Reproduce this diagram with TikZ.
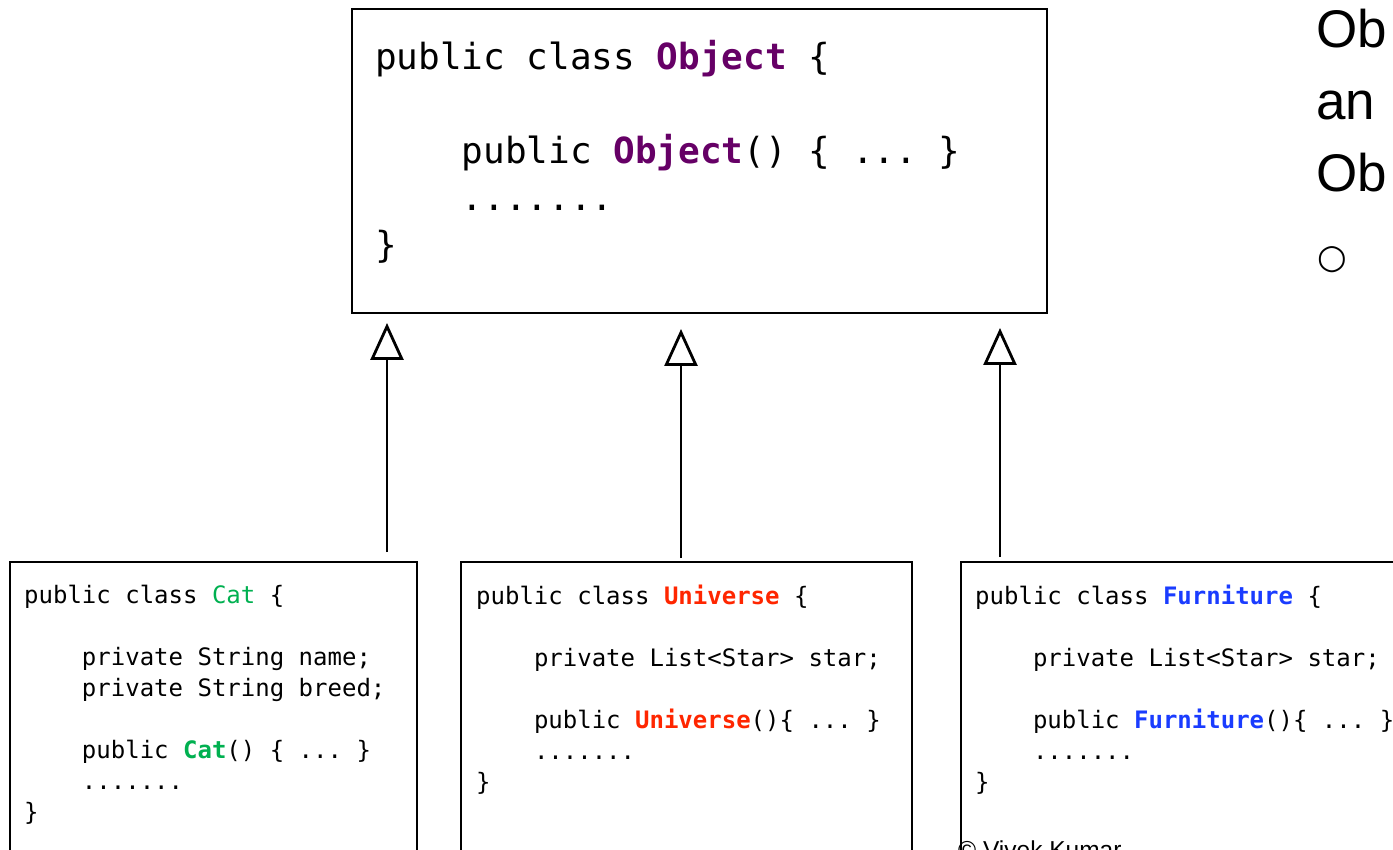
\documentclass[tikz,border=0pt]{standalone}
\usepackage{fontspec}
\setmonofont{DejaVu Sans Mono}
\newfontfamily\slidefont{Liberation Sans}
\newfontfamily\symbolfont{DejaVu Sans}
\usetikzlibrary{arrows.meta,positioning}

\definecolor{objpurple}{RGB}{102,0,102}
\definecolor{catgreen}{RGB}{0,176,80}
\definecolor{unired}{RGB}{255,38,0}
\definecolor{furnblue}{RGB}{26,60,255}

% four spaces of indentation in the code
\newcommand{\ind}{\hphantom{0000}}

\tikzset{
  classbox/.style={draw, line width=1.3pt, minimum width=#1,
    minimum height=340pt, inner sep=0pt},
  bigcode/.style={anchor=north west, inner sep=0pt, align=left,
    font=\ttfamily\fontsize{36}{47}\selectfont},
  smallcode/.style={anchor=north west, inner sep=0pt, align=left,
    font=\ttfamily\fontsize{24}{31}\selectfont},
  slidetext/.style={anchor=base west, inner sep=0pt,
    font=\slidefont\fontsize{53}{60}\selectfont},
  inherits/.style={line width=1.3pt,
    -{Triangle[open, length=37pt, width=33pt, line width=2.8pt]}}
}

\begin{document}
\begin{tikzpicture}[x=1pt,y=-1pt]
\useasboundingbox (0,0) rectangle (1393,850);
\clip (0,0) rectangle (1393,850);

% superclass
\node[draw, line width=2pt, minimum width=695pt, minimum height=304pt,
  inner sep=0pt] (object) at (699.5,161) {};
\node[bigcode] (objectCode) at (375,39.6)
  {public class \textbf{\color{objpurple}Object} \{\\[47pt]
   \ind public \textbf{\color{objpurple}Object}() \{ ... \}\\
   \ind .......\\
   \}};

% subclasses
\node[classbox=407pt] (cat) at (213.5,732) {};
\node[classbox=451pt] (universe) at (686.5,732) {};
\node[classbox=500pt] (furniture) at (1211,732) {};

\node[smallcode] (catCode) at (24,584.8)
  {public class {\color{catgreen}Cat} \{\\[31pt]
   \ind private String name;\\
   \ind private String breed;\\[31pt]
   \ind public \textbf{\color{catgreen}Cat}() \{ ... \}\\
   \ind .......\\
   \}};
\node[smallcode] (universeCode) at (476,584.8)
  {public class \textbf{\color{unired}Universe} \{\\[31pt]
   \ind private List<Star> star;\\[31pt]
   \ind public \textbf{\color{unired}Universe}()\{ ... \}\\
   \ind .......\\
   \}};
\node[smallcode] (furnitureCode) at (975,584.8)
  {public class \textbf{\color{furnblue}Furniture} \{\\[31pt]
   \ind private List<Star> star;\\[31pt]
   \ind public \textbf{\color{furnblue}Furniture}()\{ ... \}\\
   \ind .......\\
   \}};

% inheritance arrows
\coordinate (catFoot) at (387,552);
\coordinate (catTip) at (387,323);
\coordinate (universeFoot) at (681,558);
\coordinate (universeTip) at (681,329);
\coordinate (furnitureFoot) at (1000,557);
\coordinate (furnitureTip) at (1000,328);
\draw[inherits] (catFoot) -- (catTip);
\draw[inherits] (universeFoot) -- (universeTip);
\draw[inherits] (furnitureFoot) -- (furnitureTip);

% slide text, cut off by the frame
\node[slidetext] (line1) at (1316,48) {Ob};
\node[slidetext] (line2) at (1316,120) {an};
\node[slidetext] (line3) at (1316,192) {Ob};
\node[anchor=center, inner sep=0pt,
  font=\symbolfont\fontsize{34}{40}\selectfont] (bullet) at (1332,260) {○};
\node[anchor=base west, inner sep=0pt,
  font=\slidefont\fontsize{24.5}{29}\selectfont] (credit) at (958,858.5)
  {© Vivek Kumar};
\end{tikzpicture}
\end{document}
